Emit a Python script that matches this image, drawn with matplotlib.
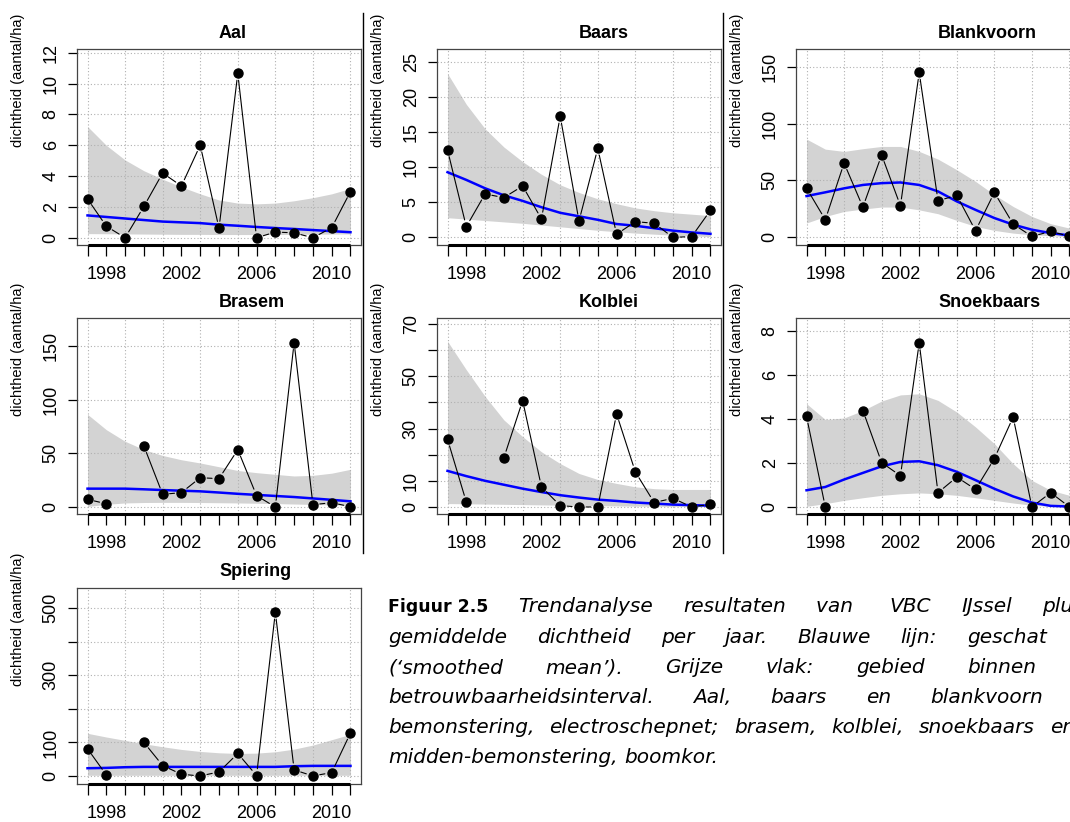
import numpy as np
import matplotlib.pyplot as plt

years = np.arange(1997, 2012)
nan = np.nan

aal_obs = [2.52, 0.75, 0.0, 2.03, 4.2, 3.36, 6.01, 0.62, 10.67, 0.0, 0.37, 0.32, 0.0, 0.65, 3.0]
aal_fit = [1.45, 1.35, 1.25, 1.15, 1.05, 1.0, 0.95, 0.85, 0.78, 0.7, 0.63, 0.57, 0.5, 0.43, 0.36]
aal_lo = [0.27, 0.26, 0.25, 0.24, 0.23, 0.22, 0.22, 0.21, 0.21, 0.21, 0.21, 0.22, 0.23, 0.24, 0.25]
aal_hi = [7.22, 6.0, 5.05, 4.35, 3.8, 3.3, 2.85, 2.45, 2.25, 2.2, 2.25, 2.4, 2.6, 2.85, 3.2]

baars_obs = [12.48, 1.52, 6.19, 5.67, 7.33, 2.62, 17.29, 2.33, 12.71, 0.43, 2.24, 2.0, 0.0, 0.1, 3.86]
baars_fit = [9.3, 8.2, 7.0, 6.0, 5.2, 4.3, 3.5, 3.0, 2.5, 1.9, 1.65, 1.3, 0.95, 0.7, 0.5]
baars_lo = [2.8, 2.6, 2.4, 2.2, 2.0, 1.75, 1.5, 1.25, 1.0, 0.8, 0.6, 0.45, 0.3, 0.2, 0.1]
baars_hi = [23.4, 19.0, 15.5, 12.9, 10.8, 9.0, 7.5, 6.4, 5.5, 4.8, 4.2, 3.8, 3.5, 3.3, 3.1]

blank_obs = [43.2, 15.3, 65.3, 26.5, 72.4, 27.6, 145.3, 32.1, 36.8, 5.6, 39.4, 11.5, 0.6, 5.0, 0.6]
blank_fit = [36.2, 39.5, 43.0, 46.0, 47.6, 48.2, 46.0, 40.3, 31.5, 24.0, 16.8, 11.0, 6.5, 3.5, 1.5]
blank_lo = [12.4, 18.2, 22.6, 24.7, 26.5, 26.5, 24.0, 20.6, 14.7, 9.4, 5.9, 3.5, 2.0, 1.2, 0.5]
blank_hi = [86.5, 77.6, 75.6, 78.0, 80.0, 80.0, 75.6, 68.8, 59.4, 49.1, 37.4, 27.0, 18.2, 11.8, 7.9]

brasem_obs = [7.1, 3.1, nan, 56.8, 11.8, 13.4, 27.3, 26.4, 53.4, 10.6, 0.0, 153.1, 2.2, 4.0, 0.3]
brasem_fit = [17.1, 17.1, 17.1, 16.5, 15.8, 15.2, 14.6, 13.5, 12.3, 11.3, 10.3, 9.3, 8.0, 6.7, 5.3]
brasem_lo = [0.5, 2.5, 3.8, 4.2, 4.3, 4.3, 4.2, 4.0, 3.8, 3.5, 3.2, 2.8, 2.4, 2.0, 1.6]
brasem_hi = [86.3, 72.0, 61.2, 53.5, 48.0, 44.0, 41.0, 37.5, 34.0, 32.0, 30.4, 28.9, 29.5, 31.5, 35.1]

kolblei_obs = [25.9, 1.9, nan, 18.8, 40.7, 7.7, 0.5, 0.0, 0.0, 35.6, 13.4, 1.7, 3.3, 0.0, 1.0]
kolblei_fit = [13.8, 11.8, 10.0, 8.5, 7.0, 5.7, 4.5, 3.6, 2.8, 2.3, 1.7, 1.3, 0.9, 0.7, 0.5]
kolblei_lo = [1.3, 1.2, 1.1, 1.0, 0.9, 0.8, 0.7, 0.6, 0.5, 0.4, 0.3, 0.25, 0.2, 0.15, 0.1]
kolblei_hi = [63.4, 52.5, 42.3, 33.3, 26.9, 21.1, 16.6, 12.8, 10.5, 9.0, 7.7, 7.0, 6.7, 6.7, 6.7]

snoek_obs = [4.12, 0.0, nan, 4.39, 2.02, 1.42, 7.47, 0.65, 1.36, 0.8, 2.2, 4.09, 0.0, 0.65, 0.0]
snoek_fit = [0.76, 0.91, 1.25, 1.55, 1.85, 2.05, 2.08, 1.9, 1.6, 1.22, 0.83, 0.48, 0.2, 0.05, 0.02]
snoek_lo = [0.03, 0.15, 0.3, 0.42, 0.53, 0.6, 0.64, 0.6, 0.53, 0.42, 0.3, 0.18, 0.08, 0.03, 0.0]
snoek_hi = [4.7, 3.98, 4.05, 4.39, 4.82, 5.1, 5.15, 4.85, 4.32, 3.64, 2.88, 1.97, 1.21, 0.76, 0.53]

spier_obs = [81, 3, nan, 100, 31, 5, 0, 12, 67, 1, 488, 18, 0, 10, 128]
spier_fit = [23, 24, 26, 27, 27, 27, 27, 27, 27, 27, 27, 29, 30, 30, 30]
spier_lo = [2, 2, 2, 2, 2, 2, 2, 2, 2, 2, 2, 2, 2, 2, 2]
spier_hi = [127, 116, 106, 96, 87, 79, 73, 69, 67, 68, 72, 80, 92, 108, 124]

titles = ["Aal", "Baars", "Blankvoorn", "Brasem", "Kolblei", "Snoekbaars", "Spiering"]
series = [
    (aal_obs, aal_fit, aal_lo, aal_hi),
    (baars_obs, baars_fit, baars_lo, baars_hi),
    (blank_obs, blank_fit, blank_lo, blank_hi),
    (brasem_obs, brasem_fit, brasem_lo, brasem_hi),
    (kolblei_obs, kolblei_fit, kolblei_lo, kolblei_hi),
    (snoek_obs, snoek_fit, snoek_lo, snoek_hi),
    (spier_obs, spier_fit, spier_lo, spier_hi),
]
ylims = [(-0.47, 12.25), (-1.1, 26.9), (-7, 166), (-6.5, 176), (-2.7, 72.3), (-0.32, 8.6), (-24, 560)]
yticks = [np.arange(0, 13, 2), np.arange(0, 26, 5), np.arange(0, 151, 50), np.arange(0, 151, 50),
          np.arange(0, 71, 10), np.arange(0, 9, 2), np.arange(0, 501, 100)]
ylabels_shown = [None, None, None, None, [0, 10, 30, 50, 70], None, [0, 100, 300, 500]]
xlabels_shown = [1998, 2002, 2006, 2010]

plt.rcParams['font.family'] = ['Liberation Sans', 'DejaVu Sans']

W, H = 1070, 822
fig = plt.figure(figsize=(W / 100, H / 100), dpi=100)

col_left = [77, 437, 796]
row_top = [49, 318, 588]
bw, bh = 284, 196

for i, name in enumerate(titles):
    r, c = divmod(i, 3)
    left, top = col_left[c], row_top[r]
    ax = fig.add_axes([left / W, 1 - (top + bh) / H, bw / W, bh / H])
    obs, fit, lo, hi = [np.array(s, dtype=float) for s in series[i]]

    ax.set_xlim(1996.44, 2011.56)
    ax.set_ylim(*ylims[i])

    ax.fill_between(years, lo, hi, color='#d3d3d3', lw=0, zorder=1)
    for yv in years[::2]:
        ax.axvline(yv, color='#b0b0b0', lw=0.8, ls=(0, (1, 2)), zorder=1.5)
    for yv in yticks[i]:
        ax.axhline(yv, color='#b0b0b0', lw=0.8, ls=(0, (1, 2)), zorder=1.5)

    ax.plot(years, fit, color='#0000ff', lw=1.8, zorder=3)

    # lijnstukken met onderbreking rond de punten (zoals type="b")
    for k in range(len(years) - 1):
        if np.isnan(obs[k]) or np.isnan(obs[k + 1]):
            continue
        ax.annotate('', xy=(years[k + 1], obs[k + 1]), xytext=(years[k], obs[k]),
                    arrowprops=dict(arrowstyle='-', color='black', lw=0.8,
                                    shrinkA=5, shrinkB=5), zorder=4)
    ax.plot(years, obs, 'o', color='black', ms=6.5, zorder=5)

    for sp in ax.spines.values():
        sp.set_color('#444444')
        sp.set_linewidth(0.9)
    y0 = ylims[i][0]
    ax.plot([years[0], years[-1]], [y0, y0], color='black', lw=2.2,
            solid_capstyle='butt', clip_on=False, zorder=6)

    ax.set_xticks(years)
    ax.set_xticklabels([str(y) if y in xlabels_shown else '' for y in years])
    ax.set_yticks(yticks[i])
    shown = ylabels_shown[i]
    ax.set_yticklabels([str(int(v)) if (shown is None or v in shown) else '' for v in yticks[i]])
    ax.tick_params(axis='x', length=8, width=0.9, pad=7, labelsize=13)
    ax.tick_params(axis='y', length=6.5, width=0.9, pad=6, labelsize=13, labelrotation=90)
    for lab in ax.get_yticklabels():
        lab.set_va('center')

    ax.text(0.5, 1 + 16 / bh, name, transform=ax.transAxes, ha='left', va='center',
            fontsize=13, fontweight='bold')
    fig.text((left - 59) / W, 1 - (top + 31) / H, 'dichtheid (aantal/ha)', rotation=90,
             ha='center', va='center', fontsize=10.5)

# scheidingslijnen
for xs in [363, 723]:
    fig.add_artist(plt.Line2D([xs / W, xs / W], [1 - 13 / H, 1 - 553 / H], color='black', lw=1))

# bijschrift, uitgevuld (laatste woord begint op de gegeven x)
caption = [
    ([("Figuur 2.5", 'bold'), "Trendanalyse", "resultaten", "van ", "VBC", "IJssel", "plus"], 1042, 612),
    (["gemiddelde", "dichtheid", "per", "jaar.", "Blauwe", "lijn:", "geschat"], 967, 643),
    (["(\u2018smoothed", "mean\u2019).", "Grijze", "vlak:", "gebied", "binnen"], 967, 673),
    (["betrouwbaarheidsinterval.", "Aal,", "baars", "en", "blankvoorn"], 930, 703),
    (["bemonstering,", "electroschepnet;", "brasem,", "kolblei,", "snoekbaars", "en"], 1050, 733),
    (["midden-bemonstering,", "boomkor."], None, 763),
]
renderer = fig.canvas.get_renderer()
x0 = 388
for words, last_x, base in caption:
    items = []
    for w in words:
        if isinstance(w, tuple):
            t = fig.text(x0 / W, 1 - base / H, w[0], fontsize=12.5, fontweight='bold',
                         family='DejaVu Sans', va='baseline')
        else:
            t = fig.text(x0 / W, 1 - base / H, w, fontsize=14.5, style='italic',
                         family='DejaVu Sans', va='baseline')
        items.append(t)
    widths = [t.get_window_extent(renderer).width for t in items]
    if last_x is None:
        gap = 7
    else:
        gap = (last_x - x0 - sum(widths[:-1])) / (len(items) - 1)
    x = x0
    for t, wd in zip(items, widths):
        t.set_x(x / W)
        x += wd + gap

fig.savefig('out.png', dpi=100)
